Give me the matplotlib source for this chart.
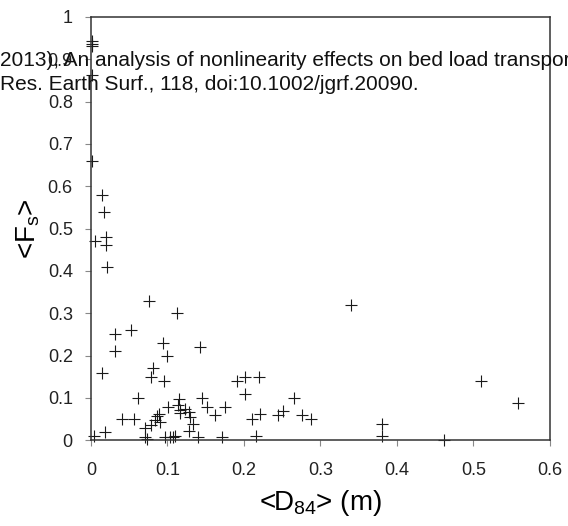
import numpy as np
import matplotlib
matplotlib.use("Agg")
import matplotlib.pyplot as plt

plt.rcParams['font.family'] = ['Liberation Sans', 'DejaVu Sans']
plt.rcParams['mathtext.fontset'] = 'custom'
plt.rcParams['mathtext.rm'] = 'Liberation Sans'
plt.rcParams['mathtext.it'] = 'Liberation Sans'
plt.rcParams['mathtext.default'] = 'regular'

# <D84> (m) vs <Fs>
d84 = [0.001, 0.001, 0.001, 0.001, 0.002, 0.014, 0.017, 0.005, 0.020, 0.020,
       0.021, 0.076, 0.113, 0.340, 0.031, 0.052, 0.031, 0.094, 0.100, 0.143,
       0.014, 0.081, 0.078, 0.096, 0.191, 0.201, 0.220, 0.201, 0.062, 0.115,
       0.145, 0.265, 0.101, 0.114, 0.116, 0.117, 0.123, 0.128, 0.152, 0.175,
       0.162, 0.130, 0.133, 0.128, 0.110, 0.140, 0.171, 0.210, 0.221, 0.216,
       0.245, 0.251, 0.276, 0.288, 0.380, 0.380, 0.461, 0.510, 0.558, 0.041,
       0.057, 0.019, 0.004, 0.071, 0.078, 0.084, 0.086, 0.091, 0.089, 0.071,
       0.073, 0.097, 0.104, 0.107]
fs = [0.944, 0.937, 0.930, 0.863, 0.66, 0.58, 0.54, 0.47, 0.48, 0.46,
      0.41, 0.33, 0.30, 0.32, 0.25, 0.26, 0.21, 0.23, 0.20, 0.22,
      0.16, 0.17, 0.15, 0.14, 0.14, 0.15, 0.15, 0.11, 0.10, 0.098,
      0.10, 0.10, 0.079, 0.083, 0.072, 0.064, 0.073, 0.067, 0.079, 0.079,
      0.059, 0.055, 0.039, 0.021, 0.009, 0.008, 0.008, 0.051, 0.061, 0.010,
      0.06, 0.07, 0.06, 0.05, 0.039, 0.010, 0.0, 0.14, 0.089, 0.05,
      0.05, 0.02, 0.009, 0.029, 0.037, 0.047, 0.057, 0.043, 0.063, 0.008,
      0.004, 0.008, 0.008, 0.008]

xticks = [0, 0.1, 0.2, 0.3, 0.4, 0.5, 0.6]
xtick_labels = ['0', '0.1', '0.2', '0.3', '0.4', '0.5', '0.6']
yticks = [0, 0.1, 0.2, 0.3, 0.4, 0.5, 0.6, 0.7, 0.8, 0.9, 1.0]
ytick_labels = ['0', '0.1', '0.2', '0.3', '0.4', '0.5', '0.6', '0.7', '0.8', '0.9', '1']

citation = ["2013), An analysis of nonlinearity effects on bed load transport",
            "Res. Earth Surf., 118, doi:10.1002/jgrf.20090."]

fig = plt.figure(figsize=(5.68, 5.26), dpi=100)
ax = fig.add_axes([0.16, 0.163, 0.808, 0.805])

ax.plot(d84, fs, linestyle='none', marker='+', markersize=9,
        markeredgewidth=0.8, color='#1a1a1a', clip_on=False)

ax.set_xlim(0, 0.6)
ax.set_ylim(0, 1)
ax.set_xticks(xticks)
ax.set_xticklabels(xtick_labels)
ax.set_yticks(yticks)
ax.set_yticklabels(ytick_labels)
ax.tick_params(direction='out', length=4, width=0.8, color='#888888',
               labelsize=13, labelcolor='#222222')
ax.tick_params(axis='x', pad=12)
ax.tick_params(axis='y', pad=9)
for s in ax.spines.values():
    s.set_linewidth(1.1)
    s.set_color('#333333')

ax.set_xlabel(r'<D$_{84}$> (m)', fontsize=20, labelpad=6)
ax.set_ylabel(r'<F$_{s}$>', fontsize=20, labelpad=4)

fig.text(0.0, 1 - 60 / 526, citation[0], fontsize=15, va='center',
         ha='left', color='#111111')
fig.text(0.0, 1 - 85 / 526, citation[1], fontsize=15, va='center',
         ha='left', color='#111111')

fig.savefig('out.png', dpi=100)
